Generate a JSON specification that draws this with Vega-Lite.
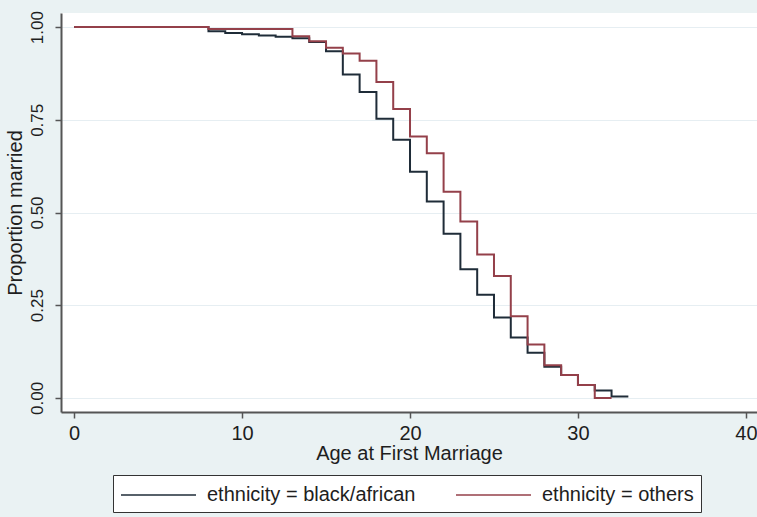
{
  "$schema": "https://vega.github.io/schema/vega-lite/v6.json",
  "autosize": {"type": "none"},
  "width": 696,
  "height": 399,
  "padding": {"left": 61, "top": 13, "right": 0, "bottom": 105},
  "background": "#eaf2f3",
  "config": {
    "view": {"fill": "white", "stroke": null},
    "font": "Liberation Sans",
    "axis": {
      "labelFont": "Liberation Sans",
      "titleFont": "Liberation Sans",
      "labelColor": "#1e1e1e",
      "titleColor": "#1e1e1e",
      "titleFontWeight": "normal",
      "domainColor": "#555555",
      "domainWidth": 2,
      "tickColor": "#555555",
      "tickWidth": 1.5,
      "tickSize": 6
    },
    "legend": {
      "labelFont": "Liberation Sans",
      "titleFont": "Liberation Sans"
    }
  },
  "data": {
    "values": [
      {"age": 0, "surv": 1.0, "group": "ethnicity = black/african"},
      {"age": 8, "surv": 0.989, "group": "ethnicity = black/african"},
      {"age": 9, "surv": 0.984, "group": "ethnicity = black/african"},
      {"age": 10, "surv": 0.981, "group": "ethnicity = black/african"},
      {"age": 11, "surv": 0.977, "group": "ethnicity = black/african"},
      {"age": 12, "surv": 0.974, "group": "ethnicity = black/african"},
      {"age": 13, "surv": 0.970, "group": "ethnicity = black/african"},
      {"age": 14, "surv": 0.960, "group": "ethnicity = black/african"},
      {"age": 15, "surv": 0.935, "group": "ethnicity = black/african"},
      {"age": 16, "surv": 0.872, "group": "ethnicity = black/african"},
      {"age": 17, "surv": 0.825, "group": "ethnicity = black/african"},
      {"age": 18, "surv": 0.753, "group": "ethnicity = black/african"},
      {"age": 19, "surv": 0.696, "group": "ethnicity = black/african"},
      {"age": 20, "surv": 0.610, "group": "ethnicity = black/african"},
      {"age": 21, "surv": 0.530, "group": "ethnicity = black/african"},
      {"age": 22, "surv": 0.443, "group": "ethnicity = black/african"},
      {"age": 23, "surv": 0.347, "group": "ethnicity = black/african"},
      {"age": 24, "surv": 0.278, "group": "ethnicity = black/african"},
      {"age": 25, "surv": 0.217, "group": "ethnicity = black/african"},
      {"age": 26, "surv": 0.163, "group": "ethnicity = black/african"},
      {"age": 27, "surv": 0.122, "group": "ethnicity = black/african"},
      {"age": 28, "surv": 0.084, "group": "ethnicity = black/african"},
      {"age": 29, "surv": 0.062, "group": "ethnicity = black/african"},
      {"age": 30, "surv": 0.035, "group": "ethnicity = black/african"},
      {"age": 31, "surv": 0.020, "group": "ethnicity = black/african"},
      {"age": 32, "surv": 0.004, "group": "ethnicity = black/african"},
      {"age": 33, "surv": 0.004, "group": "ethnicity = black/african"},
      {"age": 0, "surv": 1.0, "group": "ethnicity = others"},
      {"age": 8, "surv": 0.995, "group": "ethnicity = others"},
      {"age": 13, "surv": 0.975, "group": "ethnicity = others"},
      {"age": 14, "surv": 0.962, "group": "ethnicity = others"},
      {"age": 15, "surv": 0.944, "group": "ethnicity = others"},
      {"age": 16, "surv": 0.929, "group": "ethnicity = others"},
      {"age": 17, "surv": 0.909, "group": "ethnicity = others"},
      {"age": 18, "surv": 0.852, "group": "ethnicity = others"},
      {"age": 19, "surv": 0.779, "group": "ethnicity = others"},
      {"age": 20, "surv": 0.705, "group": "ethnicity = others"},
      {"age": 21, "surv": 0.660, "group": "ethnicity = others"},
      {"age": 22, "surv": 0.556, "group": "ethnicity = others"},
      {"age": 23, "surv": 0.476, "group": "ethnicity = others"},
      {"age": 24, "surv": 0.387, "group": "ethnicity = others"},
      {"age": 25, "surv": 0.329, "group": "ethnicity = others"},
      {"age": 26, "surv": 0.220, "group": "ethnicity = others"},
      {"age": 27, "surv": 0.144, "group": "ethnicity = others"},
      {"age": 28, "surv": 0.088, "group": "ethnicity = others"},
      {"age": 29, "surv": 0.062, "group": "ethnicity = others"},
      {"age": 30, "surv": 0.035, "group": "ethnicity = others"},
      {"age": 31, "surv": 0.0, "group": "ethnicity = others"},
      {"age": 32, "surv": 0.0, "group": "ethnicity = others"}
    ]
  },
  "mark": {"type": "line", "interpolate": "step-after", "strokeWidth": 2},
  "encoding": {
    "x": {
      "field": "age",
      "type": "quantitative",
      "scale": {"domain": [-0.78, 40.66], "nice": false, "zero": false},
      "axis": {
        "title": "Age at First Marriage",
        "values": [0, 10, 20, 30, 40],
        "grid": false,
        "labelFontSize": 20,
        "titleFontSize": 20,
        "labelPadding": 5,
        "titlePadding": 0,
        "labelFlush": false
      }
    },
    "y": {
      "field": "surv",
      "type": "quantitative",
      "scale": {"domain": [-0.038, 1.038], "nice": false, "zero": false},
      "axis": {
        "title": "Proportion married",
        "values": [0, 0.25, 0.5, 0.75, 1],
        "format": ".2f",
        "grid": true,
        "gridColor": "#e6eef2",
        "gridWidth": 1,
        "labelAngle": -90,
        "labelAlign": "center",
        "labelBaseline": "bottom",
        "labelFontSize": 17,
        "labelPadding": 9,
        "titleFontSize": 20,
        "titlePadding": 3,
        "labelFlush": false
      }
    },
    "color": {
      "field": "group",
      "type": "nominal",
      "scale": {
        "domain": ["ethnicity = black/african", "ethnicity = others"],
        "range": ["#1f2c38", "#94404a"]
      },
      "legend": {
        "title": null,
        "orient": "none",
        "legendX": 52,
        "legendY": 462,
        "direction": "horizontal",
        "symbolType": "M-1,0H5.25",
        "symbolSize": 576,
        "symbolStrokeWidth": 1.5,
        "labelFontSize": 20,
        "labelColor": "#1e1e1e",
        "labelOffset": 61,
        "columnPadding": 37,
        "strokeColor": "#333333",
        "fillColor": "white",
        "padding": 7,
        "labelLimit": 400
      }
    }
  }
}
